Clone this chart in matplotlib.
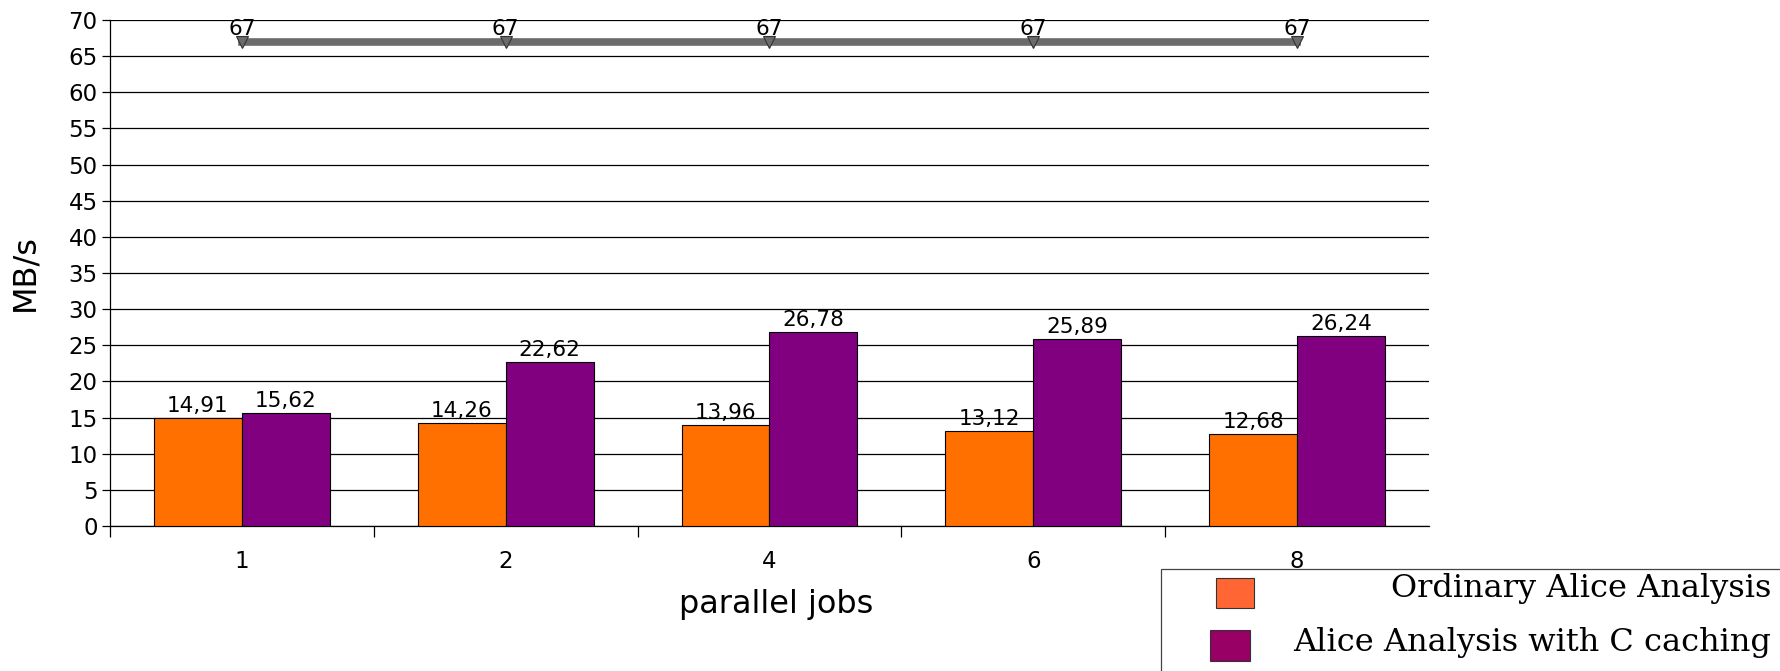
import numpy as np
import matplotlib
matplotlib.use("Agg")
from matplotlib import pyplot as plt
from matplotlib.patches import Rectangle

# Data
jobs = ["1", "2", "4", "6", "8"]
ordinary = [14.91, 14.26, 13.96, 13.12, 12.68]
caching = [15.62, 22.62, 26.78, 25.89, 26.24]
limit = [67, 67, 67, 67, 67]

# Figure and axes
fig = plt.figure(figsize=(17.8, 6.71), dpi=100)
ax = fig.add_axes([0.0618, 0.2161, 0.7410, 0.7541])

x = np.arange(len(jobs))
w = 0.333

ax.bar(x - w / 2, ordinary, w, color="#ff7000", edgecolor="black", linewidth=0.8, zorder=3)
ax.bar(x + w / 2, caching, w, color="#800080", edgecolor="black", linewidth=0.8, zorder=3)

# Horizontal line with markers
ax.plot(x, limit, color="#6b6b6b", linewidth=5.5, marker="v", markersize=8,
        markerfacecolor="#6b6b6b", markeredgecolor="#333333", markeredgewidth=0.8, zorder=4)

# Value labels
def fmt(v):
    return ("%g" % v).replace(".", ",")

for i in range(len(jobs)):
    ax.text(x[i] - w / 2, ordinary[i] + 0.3, fmt(ordinary[i]), ha="center", va="bottom", fontsize=15.5, zorder=5)
    ax.text(x[i] + w / 2, caching[i] + 0.3, fmt(caching[i]), ha="center", va="bottom", fontsize=15.5, zorder=5)
    ax.text(x[i], limit[i] + 0.4, fmt(limit[i]), ha="center", va="bottom", fontsize=15.5, zorder=5)

# Axes styling
ax.set_xlim(-0.5, len(jobs) - 0.5)
ax.set_ylim(0, 70)
ax.set_yticks(np.arange(0, 71, 5))
ax.yaxis.grid(True, color="black", linewidth=0.9)
ax.set_axisbelow(True)
ax.spines["top"].set_visible(False)
ax.spines["right"].set_visible(False)
ax.spines["left"].set_linewidth(0.9)
ax.spines["bottom"].set_linewidth(0.9)

ax.set_xticks(x)
ax.set_xticklabels(jobs)
ax.set_xticks(np.arange(-0.5, len(jobs) - 1, 1), minor=True)
ax.tick_params(axis="x", which="major", length=0, pad=17, labelsize=16.5)
ax.tick_params(axis="x", which="minor", length=8, width=0.9, direction="out")
ax.tick_params(axis="y", length=6, width=0.9, labelsize=16.5, pad=3)

ax.set_ylabel("MB/s", fontsize=23)
ax.yaxis.set_label_coords(-0.053, 0.5)
ax.set_xlabel("parallel jobs", fontsize=23, labelpad=12)
ax.xaxis.set_label_coords(0.505, -0.125)

# Legend box
fig.patches.append(Rectangle((1161 / 1780, -0.1), 0.5, (671 - 569) / 671 + 0.1,
                             transform=fig.transFigure, facecolor="white",
                             edgecolor="#444444", linewidth=0.9))
fig.patches.append(Rectangle((1216 / 1780, (671 - 608) / 671), 38 / 1780, 30 / 671,
                             transform=fig.transFigure, facecolor="#ff6633",
                             edgecolor="#333333", linewidth=0.8))
fig.patches.append(Rectangle((1210 / 1780, (671 - 661) / 671), 40 / 1780, 31 / 671,
                             transform=fig.transFigure, facecolor="#990066",
                             edgecolor="#333333", linewidth=0.8))
fig.text(1771 / 1780, (671 - 589) / 671, "Ordinary Alice Analysis", ha="right", va="center",
         family="DejaVu Serif", fontsize=23)
fig.text(1771 / 1780, (671 - 643) / 671, "Alice Analysis with C caching", ha="right", va="center",
         family="DejaVu Serif", fontsize=23)

fig.savefig("out.png", dpi=100)
